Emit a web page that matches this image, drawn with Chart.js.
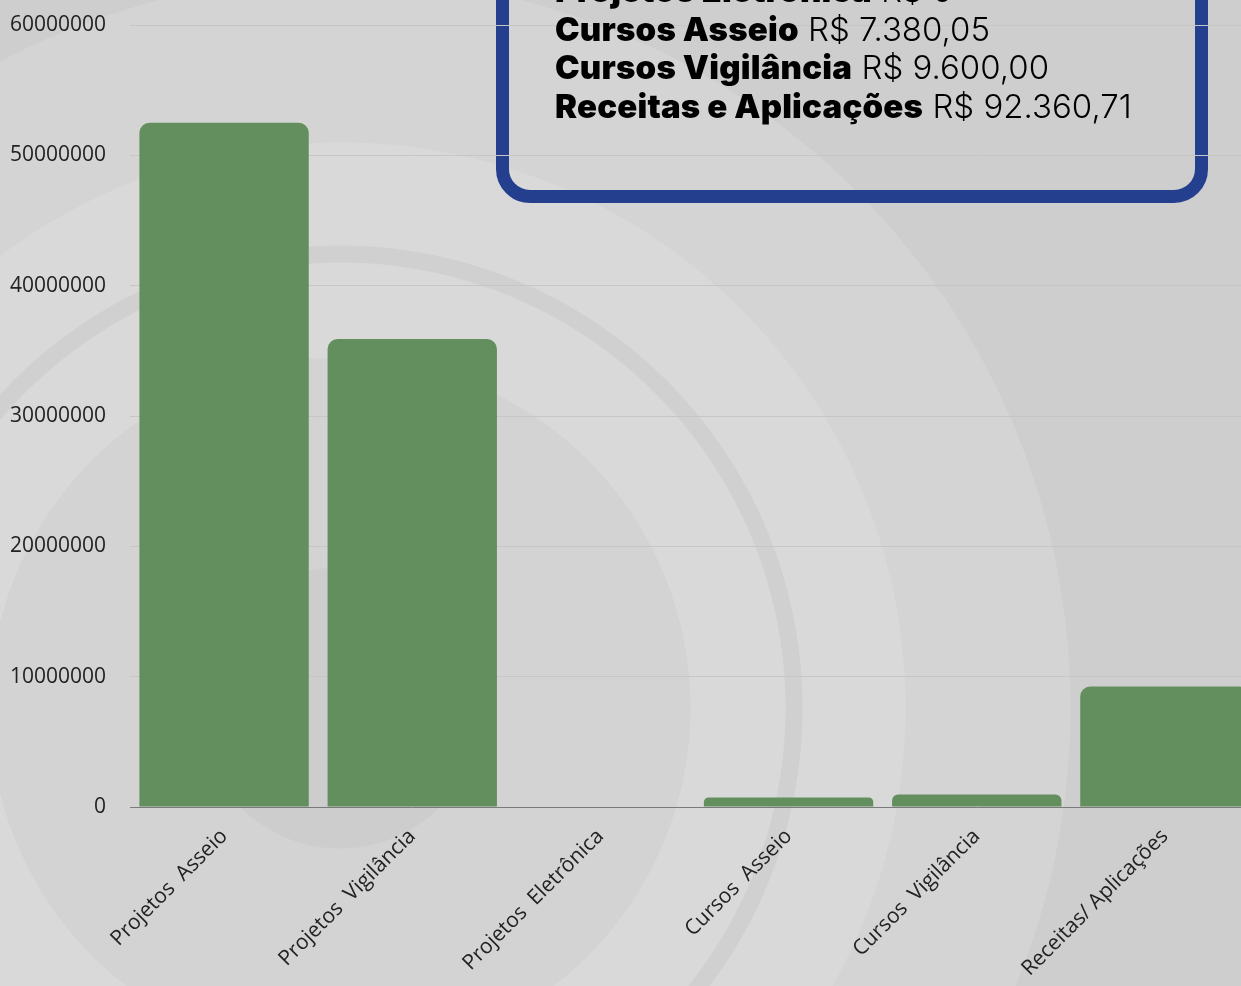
<!DOCTYPE html>
<html>
<head>
<meta charset="utf-8">
<script src="https://cdn.jsdelivr.net/npm/chart.js@4"></script>
<style>
  html, body { margin: 0; padding: 0; width: 1241px; height: 986px; overflow: hidden; }
  body {
    position: relative;
    background:
      radial-gradient(circle at 340px 708px,
        #cdcdcd 0px, #cdcdcd 140px,
        #d3d3d3 141px, #d3d3d3 350px,
        #d9d9d9 351px, #d9d9d9 445px,
        #d0d0d0 446px, #d0d0d0 462px,
        #d9d9d9 463px, #d9d9d9 565px,
        #d4d4d4 566px, #d4d4d4 730px,
        #cecece 731px);
  }
  #wrap { position: absolute; left: 0; top: 0; width: 1270px; height: 986px; }
  #box {
    position: absolute; left: 496px; top: -70px; width: 686px; height: 247px;
    border: 13px solid #253f8f; border-radius: 34px; background: transparent;
  }
  #txt { position: absolute; left: 555px; top: 0; font-family: Inter, sans-serif; color: #000; }
  .ln { position: absolute; left: 0; white-space: nowrap; font-size: 33px; line-height: 1; }
  .ln b { font-weight: 900; letter-spacing: 0.2px; }
  .ln span { font-weight: 300; }
</style>
</head>
<body>
<div id="box"></div>
<div id="wrap"><canvas id="c" width="1270" height="986" style="width:1270px;height:986px"></canvas></div>
<div id="txt"></div>
<script>
const categories = ['Projetos  Asseio', 'Projetos  Vigilância', 'Projetos  Eletrônica', 'Cursos  Asseio', 'Cursos  Vigilância', 'Receitas/ Aplicações'];
const values = [52500000, 35900000, 0, 738005, 960000, 9236071];
const yTicks = [0, 10000000, 20000000, 30000000, 40000000, 50000000, 60000000];
const boxLabels = ['Projetos Eletrônica', 'Cursos Asseio', 'Cursos Vigilância', 'Receitas e Aplicações'];
const boxValues = ['R$ 0', 'R$ 7.380,05', 'R$ 9.600,00', 'R$ 92.360,71'];

// box text
const txt = document.getElementById('txt');
boxLabels.forEach((l, i) => {
  const d = document.createElement('div');
  d.className = 'ln';
  d.style.top = (-26 + i * 38.5) + 'px';
  d.innerHTML = '<b>' + l + '</b> <span>' + boxValues[i] + '</span>';
  txt.appendChild(d);
});

new Chart(document.getElementById('c'), {
  type: 'bar',
  data: {
    labels: categories,
    datasets: [{
      data: values,
      backgroundColor: '#638f5f',
      borderWidth: 0,
      borderRadius: 10,
      barPercentage: 0.9,
      categoryPercentage: 1.0
    }]
  },
  options: {
    responsive: false,
    animation: false,
    devicePixelRatio: 1,
    layout: { padding: { top: 25, right: 11, left: 0, bottom: 0 } },
    plugins: { legend: { display: false }, tooltip: { enabled: false } },
    scales: {
      x: {
        grid: { display: false, drawTicks: false },
        border: { display: true, color: '#7a7a7a', width: 1 },
        ticks: {
          maxRotation: 45, minRotation: 45, padding: 17,
          color: '#222', font: { family: 'Open Sans', size: 21 }
        },
        afterFit: s => { s.height = 179; s.paddingLeft = 0; s.paddingRight = 0; s.paddingTop = 0; s.paddingBottom = 0; }
      },
      y: {
        min: 0, max: 60000000,
        afterBuildTicks: s => { s.ticks = yTicks.map(v => ({ value: v })); },
        grid: { color: '#c6c6c6', lineWidth: 1, drawTicks: false },
        border: { display: false },
        ticks: {
          padding: 24, color: '#222',
          font: { family: 'Open Sans', size: 21 },
          callback: v => String(v)
        },
        afterFit: s => { s.width = 130; s.paddingTop = 0; s.paddingBottom = 0; }
      }
    }
  }
});
</script>
</body>
</html>
